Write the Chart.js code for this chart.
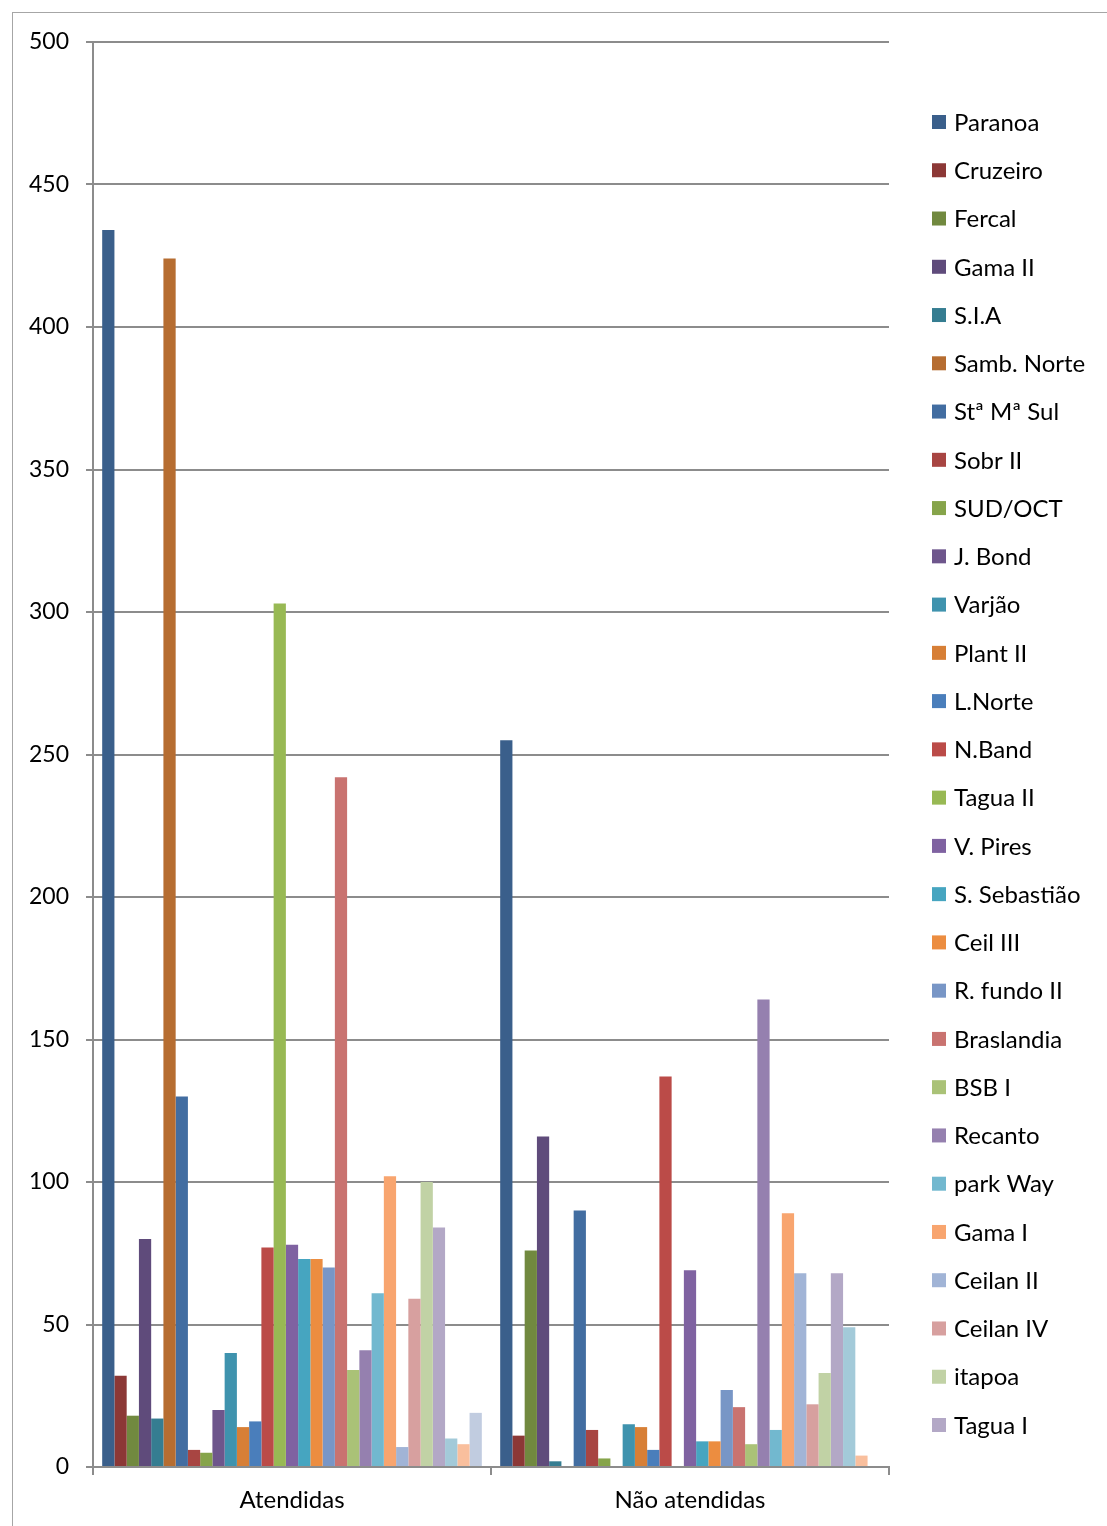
<!DOCTYPE html>
<html lang="pt">
<head>
    <meta charset="UTF-8">
    <title>Atendidas / Não atendidas</title>
    <script src="https://cdn.jsdelivr.net/npm/chart.js"></script>
    <style>
        html, body { margin: 0; padding: 0; background: #fff; }
        .wrap { position: relative; width: 1107px; height: 1526px; }
    </style>
</head>
<body>
    <div class="wrap">
        <canvas id="chart" width="1107" height="1526"></canvas>
    </div>

    <script>
        // categories on the x axis
        const categories = ['Atendidas', 'Não atendidas'];

        // one entry per series (region)
        const regions = [
            'Paranoa', 'Cruzeiro', 'Fercal', 'Gama II', 'S.I.A', 'Samb. Norte', 'Stª Mª Sul',
            'Sobr II', 'SUD/OCT', 'J. Bond', 'Varjão', 'Plant II', 'L.Norte', 'N.Band',
            'Tagua II', 'V. Pires', 'S. Sebastião', 'Ceil III', 'R. fundo II', 'Braslandia',
            'BSB I', 'Recanto', 'park Way', 'Gama I', 'Ceilan II', 'Ceilan IV', 'itapoa',
            'Tagua I', 'Série29', 'Série30', 'Série31'
        ];

        const atendidas = [
            434, 32, 18, 80, 17, 424, 130,
            6, 5, 20, 40, 14, 16, 77,
            303, 78, 73, 73, 70, 242,
            34, 41, 61, 102, 7, 59, 100,
            84, 10, 8, 19
        ];

        const naoAtendidas = [
            255, 11, 76, 116, 2, 0, 90,
            13, 3, 0, 15, 14, 6, 137,
            0, 69, 9, 9, 27, 21,
            8, 164, 13, 89, 68, 22, 33,
            68, 49, 4, 0
        ];

        const colors = [
            '#3a5f8b', '#8c3836', '#71893f', '#5f4b7b', '#357d91', '#b66d31', '#426da1',
            '#a84542', '#86a44a', '#6e568c', '#3f93ae', '#d77f36', '#4a7ebb', '#bb4b48',
            '#98b954', '#7f62a1', '#46a5c0', '#ec8d40', '#7896c6', '#c97370',
            '#aac277', '#9580af', '#72b8cf', '#f8a56f', '#a1b4d6', '#d7a09f', '#c1d2a5',
            '#b3a8c6', '#a3cad9', '#f9bf9d', '#c1cce0'
        ];

        const yTicks = [0, 50, 100, 150, 200, 250, 300, 350, 400, 450, 500];

        // only the first 28 series fit in the legend
        const legendCount = 28;

        const fontFamily = 'Lato, "Open Sans", sans-serif';
        const gridColor = '#8c8c8c';

        const datasets = regions.map((name, i) => ({
            label: name,
            data: [atendidas[i], naoAtendidas[i]],
            backgroundColor: colors[i],
            borderWidth: 0,
            categoryPercentage: 31 / 32.5,
            barPercentage: 1.0
        }));

        // frame + legend drawn by hand, Excel style
        const excelLook = {
            id: 'excelLook',
            beforeDraw(chart) {
                const ctx = chart.ctx;
                ctx.save();
                ctx.strokeStyle = '#a6a6a6';
                ctx.lineWidth = 1;
                ctx.strokeRect(12.5, 12.5, 1200, 1600);
                ctx.restore();
            },
            afterDraw(chart) {
                const ctx = chart.ctx;
                ctx.save();
                ctx.font = '24px ' + fontFamily;
                ctx.textBaseline = 'middle';
                const step = (1425 - 122) / 27;
                chart.data.datasets.slice(0, legendCount).forEach((ds, i) => {
                    const y = 122 + i * step;
                    ctx.fillStyle = ds.backgroundColor;
                    ctx.fillRect(932, y - 7, 14, 14);
                    ctx.fillStyle = '#000';
                    ctx.fillText(ds.label, 954, y + 1);
                });
                ctx.restore();
            }
        };

        new Chart(document.getElementById('chart'), {
            type: 'bar',
            data: {
                labels: categories,
                datasets: datasets
            },
            options: {
                responsive: false,
                animation: false,
                layout: {
                    padding: { top: 42, right: 218, left: 0, bottom: 0 }
                },
                plugins: {
                    legend: { display: false },
                    tooltip: { enabled: false }
                },
                scales: {
                    x: {
                        offset: true,
                        grid: {
                            offset: true,
                            drawOnChartArea: false,
                            drawTicks: true,
                            tickLength: 8,
                            color: gridColor,
                            lineWidth: 2
                        },
                        border: { color: gridColor, width: 2 },
                        ticks: {
                            color: '#000',
                            font: { family: fontFamily, size: 24 },
                            padding: 11
                        },
                        afterFit(scale) { scale.height = 59; }
                    },
                    y: {
                        min: 0,
                        max: 500,
                        afterBuildTicks(scale) {
                            scale.ticks = yTicks.map(v => ({ value: v }));
                        },
                        grid: {
                            color: gridColor,
                            lineWidth: 2,
                            tickLength: 7
                        },
                        border: { color: gridColor, width: 2 },
                        ticks: {
                            color: '#000',
                            font: { family: fontFamily, size: 23 },
                            padding: 17
                        },
                        afterFit(scale) { scale.width = 93; }
                    }
                }
            },
            plugins: [excelLook]
        });
    </script>
</body>
</html>
